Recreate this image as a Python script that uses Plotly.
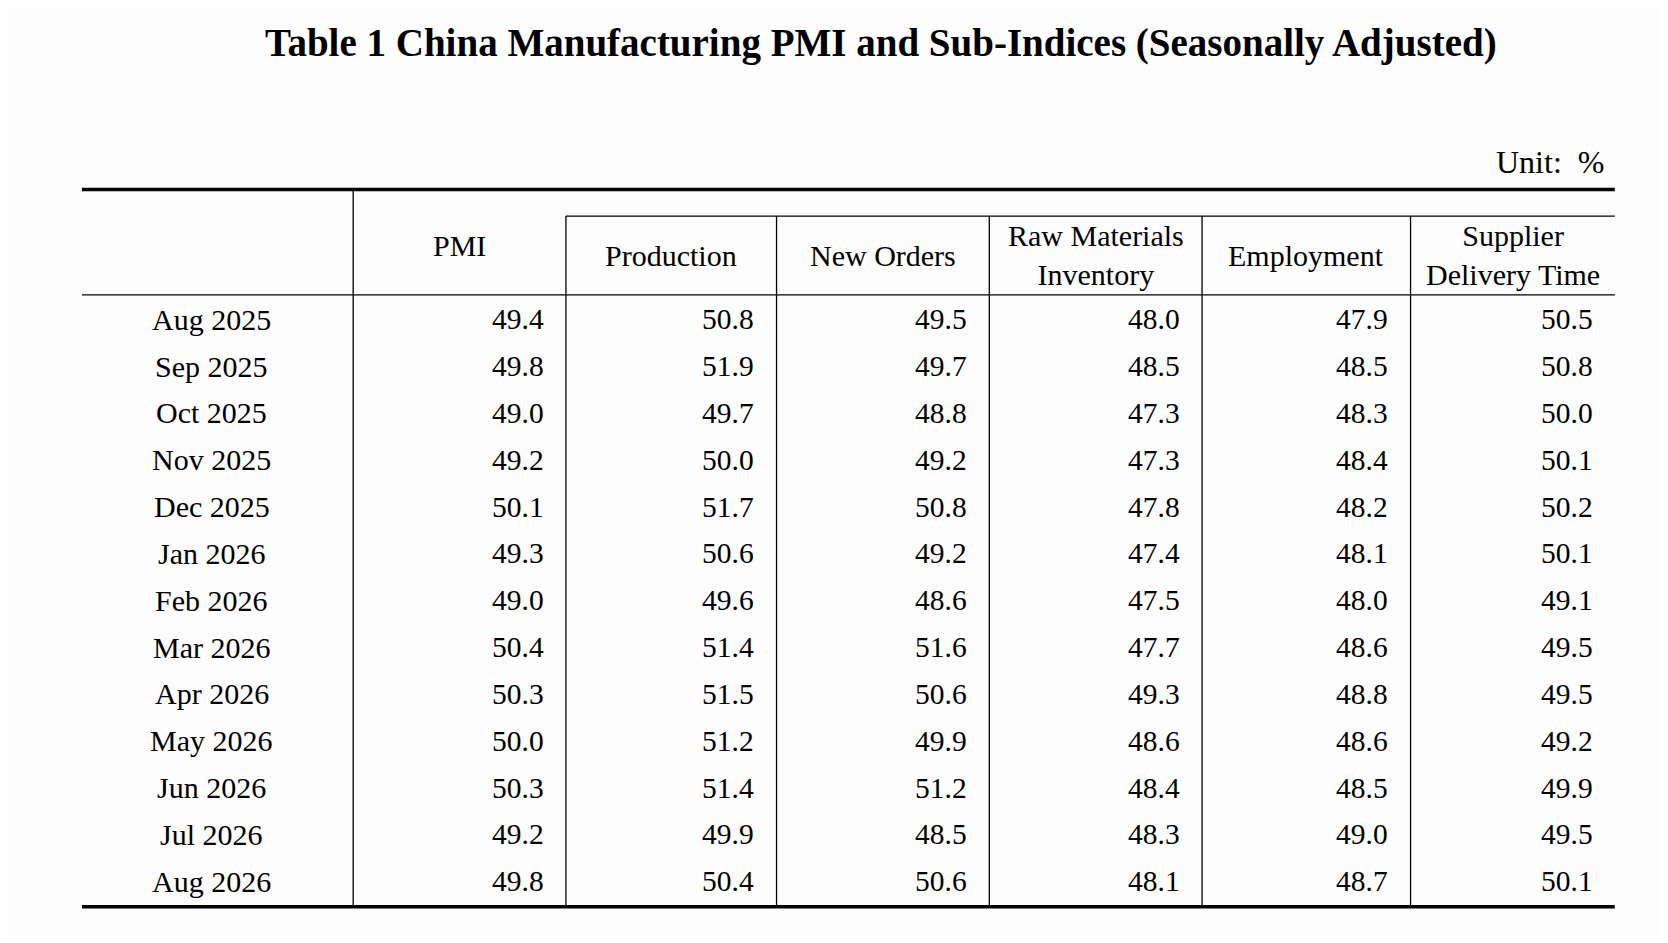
import plotly.graph_objects as go

title = "Table 1 China Manufacturing PMI and Sub-Indices (Seasonally Adjusted)"
unit = "Unit:  %"
headers = ["PMI", "Production", "New Orders", "Raw Materials<br>Inventory", "Employment", "Supplier<br>Delivery Time"]
months = ["Aug 2025", "Sep 2025", "Oct 2025", "Nov 2025", "Dec 2025", "Jan 2026", "Feb 2026",
          "Mar 2026", "Apr 2026", "May 2026", "Jun 2026", "Jul 2026", "Aug 2026"]
pmi = [49.4, 49.8, 49.0, 49.2, 50.1, 49.3, 49.0, 50.4, 50.3, 50.0, 50.3, 49.2, 49.8]
production = [50.8, 51.9, 49.7, 50.0, 51.7, 50.6, 49.6, 51.4, 51.5, 51.2, 51.4, 49.9, 50.4]
new_orders = [49.5, 49.7, 48.8, 49.2, 50.8, 49.2, 48.6, 51.6, 50.6, 49.9, 51.2, 48.5, 50.6]
raw_inv = [48.0, 48.5, 47.3, 47.3, 47.8, 47.4, 47.5, 47.7, 49.3, 48.6, 48.4, 48.3, 48.1]
employment = [47.9, 48.5, 48.3, 48.4, 48.2, 48.1, 48.0, 48.6, 48.8, 48.6, 48.5, 49.0, 48.7]
delivery = [50.5, 50.8, 50.0, 50.1, 50.2, 50.1, 49.1, 49.5, 49.5, 49.2, 49.9, 49.5, 50.1]
columns = [pmi, production, new_orders, raw_inv, employment, delivery]

FONT = "Liberation Serif"
L, R = 77, 1518
col_edges = [332, 532, 730, 930, 1130, 1326, 1518]
top_y, sub_y, head_y, bot_y = 178, 203, 277, 852
row0, row_h = 300, 44

fig = go.Figure()
shapes = []
def line(x0, y0, x1, y1, w):
    shapes.append(dict(type="line", x0=x0, y0=y0, x1=x1, y1=y1, xref="x", yref="y",
                       line=dict(color="black", width=w)))
line(L, top_y, R, top_y, 3.5)
line(L, bot_y, R, bot_y, 3.5)
line(L, head_y, R, head_y, 1.3)
line(col_edges[1], sub_y, R, sub_y, 1.3)
line(col_edges[0], top_y, col_edges[0], bot_y, 1.3)
for x in col_edges[1:-1]:
    line(x, sub_y, x, bot_y, 1.3)

ann = []
ann.append(dict(x=828, y=40, text="<b>" + title + "</b>", showarrow=False,
                font=dict(family=FONT, size=39, color="black"), xanchor="center", yanchor="middle"))
ann.append(dict(x=1510, y=152, text=unit, showarrow=False,
                font=dict(family=FONT, size=32, color="black"), xanchor="right", yanchor="middle"))
for j, h in enumerate(headers):
    cx = (col_edges[j] + col_edges[j + 1]) / 2
    cy = 231 if j == 0 else 240
    ann.append(dict(x=cx, y=cy, text=h, showarrow=False,
                    font=dict(family=FONT, size=30, color="black"), xanchor="center", yanchor="middle"))
for i, m in enumerate(months):
    y = row0 + i * row_h
    ann.append(dict(x=199, y=y, text=m, showarrow=False,
                    font=dict(family=FONT, size=30, color="black"), xanchor="center", yanchor="middle"))
    for j, col in enumerate(columns):
        ann.append(dict(x=col_edges[j + 1] - 19, y=y, text=f"{col[i]:.1f}", showarrow=False,
                        font=dict(family=FONT, size=29.5, color="black"), xanchor="right", yanchor="middle"))

# compensate for the 8px page margin
fig.update_layout(
    width=1652, height=927, margin=dict(l=0, r=0, t=0, b=0),
    paper_bgcolor="#fdfdfd", plot_bgcolor="#fdfdfd",
    xaxis=dict(range=[7.52, 1560.5], visible=False, fixedrange=True),
    yaxis=dict(range=[878.5, 7.52], visible=False, fixedrange=True),
    shapes=shapes, annotations=ann, showlegend=False,
)
fig.write_html("out.html")
